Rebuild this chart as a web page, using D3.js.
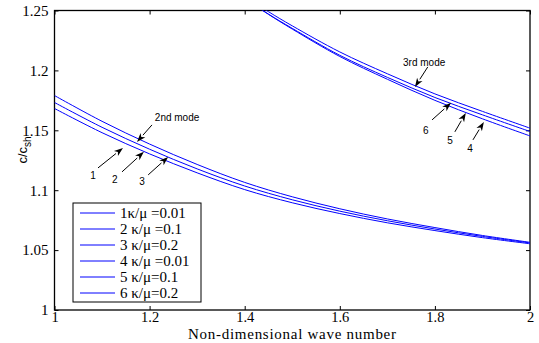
<!DOCTYPE html>
<html>
<head>
<meta charset="utf-8">
<script src="https://cdn.jsdelivr.net/npm/d3@7"></script>
<style>
  body { margin: 0; background: #fff; }
  svg { display: block; }
</style>
</head>
<body>
<svg id="chart" width="539" height="343"></svg>
<script>
// ---------- data ----------
const k2 = [1.0, 1.1, 1.2, 1.3, 1.4, 1.5, 1.6, 1.7, 1.8, 1.9, 2.0];
const s1 = [1.1682, 1.1480, 1.1303, 1.1145, 1.1005, 1.0895, 1.0805, 1.0728, 1.0663, 1.0604, 1.0553];
const s2 = [1.1732, 1.1525, 1.1342, 1.1178, 1.1035, 1.0920, 1.0825, 1.0745, 1.0676, 1.0614, 1.0560];
const s3 = [1.1790, 1.1575, 1.1385, 1.1215, 1.1065, 1.0945, 1.0845, 1.0760, 1.0688, 1.0622, 1.0565];

const k3 = [1.40, 1.45, 1.5, 1.6, 1.7, 1.8, 1.9, 2.0];
const s4 = [1.2600, 1.2468, 1.2345, 1.2116, 1.1926, 1.1750, 1.1596, 1.1453];
const s5 = [1.2602, 1.2470, 1.2351, 1.2126, 1.1942, 1.1774, 1.1629, 1.1490];
const s6 = [1.2620, 1.2490, 1.2372, 1.2154, 1.1972, 1.1804, 1.1658, 1.1518];

const legendLabels = ["1\u03BA/\u03BC =0.01", "2 \u03BA/\u03BC =0.1", "3 \u03BA/\u03BC=0.2",
                      "4 \u03BA/\u03BC =0.01", "5 \u03BA/\u03BC=0.1", "6 \u03BA/\u03BC=0.2"];
const xTicks = [1, 1.2, 1.4, 1.6, 1.8, 2];
const yTicks = [1, 1.05, 1.1, 1.15, 1.2, 1.25];
const xTickLabels = ["1", "1.2", "1.4", "1.6", "1.8", "2"];
const yTickLabels = ["1", "1.05", "1.1", "1.15", "1.2", "1.25"];

// annotations in data units: [text, textK, textC, fromK, fromC, tipK, tipC]
const modeNotes = [
  ["2nd mode", 1.211, 1.158, 1.205, 1.1545, 1.1735, 1.1403],
  ["3rd mode", 1.733, 1.2035, 1.785, 1.2029, 1.758, 1.1862]
];
const numNotes = [
  ["1", 1.081, 1.112, 1.0915, 1.1186, 1.144, 1.1353],
  ["2", 1.127, 1.1087, 1.142, 1.1153, 1.188, 1.132],
  ["3", 1.184, 1.107, 1.197, 1.1128, 1.239, 1.1278],
  ["6", 1.781, 1.1495, 1.794, 1.1587, 1.834, 1.1729],
  ["5", 1.8317, 1.1412, 1.842, 1.1487, 1.865, 1.1645],
  ["4", 1.8738, 1.1345, 1.880, 1.142, 1.903, 1.157]
];

// ---------- layout ----------
const W = 539, H = 343;
const m = { left: 54.5, right: 9, top: 10.5, bottom: 33 };
const svg = d3.select("#chart");
const x = d3.scaleLinear().domain([1, 2]).range([m.left, W - m.right]);
const y = d3.scaleLinear().domain([1, 1.25]).range([H - m.bottom, m.top]);
const serif = "'Liberation Serif', 'Times New Roman', serif";
const sans = "'Liberation Sans', Arial, sans-serif";

svg.append("defs").append("clipPath").attr("id", "clip")
  .append("rect").attr("x", m.left).attr("y", m.top)
  .attr("width", x(2) - x(1)).attr("height", y(1) - y(1.25));

// axes
function styleAxis(fs) {
  return g => {
    g.select(".domain").remove();
    g.selectAll(".tick line").attr("stroke", "#000");
    g.selectAll(".tick text").attr("font-family", serif).attr("font-size", fs).attr("fill", "#000");
  };
}
svg.append("g").attr("transform", `translate(0,${y(1)})`)
  .call(d3.axisBottom(x).tickValues(xTicks).tickFormat((d, i) => xTickLabels[i]).tickSizeInner(-4).tickSizeOuter(0).tickPadding(2))
  .call(styleAxis(14.5));
svg.append("g").attr("transform", `translate(0,${y(1.25)})`)
  .call(d3.axisTop(x).tickValues(xTicks).tickFormat("").tickSizeInner(-4).tickSizeOuter(0))
  .call(styleAxis(15));
svg.append("g").attr("transform", `translate(${x(1)},0)`)
  .call(d3.axisLeft(y).tickValues(yTicks).tickFormat((d, i) => yTickLabels[i]).tickSizeInner(-4).tickSizeOuter(0).tickPadding(6))
  .call(styleAxis(15));
svg.append("g").attr("transform", `translate(${x(2)},0)`)
  .call(d3.axisRight(y).tickValues(yTicks).tickFormat("").tickSizeInner(-4).tickSizeOuter(0))
  .call(styleAxis(15));

// frame
svg.append("rect").attr("x", x(1)).attr("y", y(1.25))
  .attr("width", x(2) - x(1)).attr("height", y(1) - y(1.25))
  .attr("fill", "none").attr("stroke", "#000").attr("stroke-width", 1.3);

// curves
const line = d3.line().x(d => x(d[0])).y(d => y(d[1])).curve(d3.curveCatmullRom.alpha(0.5));
const series = [[k2, s1], [k2, s2], [k2, s3], [k3, s4], [k3, s5], [k3, s6]];
svg.append("g").attr("clip-path", "url(#clip)")
  .selectAll("path").data(series).join("path")
  .attr("d", s => line(s[0].map((k, i) => [k, s[1][i]])))
  .attr("fill", "none").attr("stroke", "#0000ff").attr("stroke-width", 1);

// arrows
function arrow(g, fk, fc, tk, tc) {
  const x0 = x(fk), y0 = y(fc), x1 = x(tk), y1 = y(tc);
  const ang = Math.atan2(y1 - y0, x1 - x0);
  const L = 9, Wd = 3.2;
  const bx = x1 - L * Math.cos(ang), by = y1 - L * Math.sin(ang);
  g.append("line").attr("x1", x0).attr("y1", y0).attr("x2", bx).attr("y2", by)
    .attr("stroke", "#000").attr("stroke-width", 1);
  const px = -Math.sin(ang) * Wd, py = Math.cos(ang) * Wd;
  g.append("path").attr("d", `M${x1},${y1}L${bx + px},${by + py}L${bx + 2.5*Math.cos(ang)},${by + 2.5*Math.sin(ang)}L${bx - px},${by - py}Z`)
    .attr("fill", "#000");
}
const ann = svg.append("g");
modeNotes.forEach(n => {
  ann.append("text").attr("x", x(n[1])).attr("y", y(n[2]))
    .attr("font-family", sans).attr("font-size", 10).text(n[0]);
  arrow(ann, n[3], n[4], n[5], n[6]);
});
numNotes.forEach(n => {
  ann.append("text").attr("x", x(n[1])).attr("y", y(n[2])).attr("dy", "0.35em")
    .attr("text-anchor", "middle").attr("font-family", sans).attr("font-size", 10).text(n[0]);
  arrow(ann, n[3], n[4], n[5], n[6]);
});

// legend
const lg = svg.append("g").attr("transform", "translate(73,203)");
lg.append("rect").attr("x", 0).attr("y", 0).attr("width", 128).attr("height", 99)
  .attr("fill", "#fff").attr("stroke", "#000").attr("stroke-width", 1);
legendLabels.forEach((t, i) => {
  const yy = 10 + i * 16;
  lg.append("line").attr("x1", 7).attr("x2", 42).attr("y1", yy).attr("y2", yy)
    .attr("stroke", "#0000ff").attr("stroke-width", 1);
  lg.append("text").attr("x", 47).attr("y", yy).attr("dy", "0.35em")
    .attr("font-family", serif).attr("font-size", 15).text(t);
});

// axis labels
svg.append("text").attr("x", 292).attr("y", 339).attr("text-anchor", "middle")
  .attr("font-family", serif).attr("font-size", 15)
  .attr("textLength", 208).attr("lengthAdjust", "spacing")
  .text("Non-dimensional wave number");
const yl = svg.append("text").attr("transform", "translate(27,150) rotate(-90)")
  .attr("text-anchor", "middle").attr("font-family", sans).attr("font-size", 13);
yl.append("tspan").text("c/c");
yl.append("tspan").attr("dy", 4).attr("font-size", 10).text("sh");
</script>
</body>
</html>
